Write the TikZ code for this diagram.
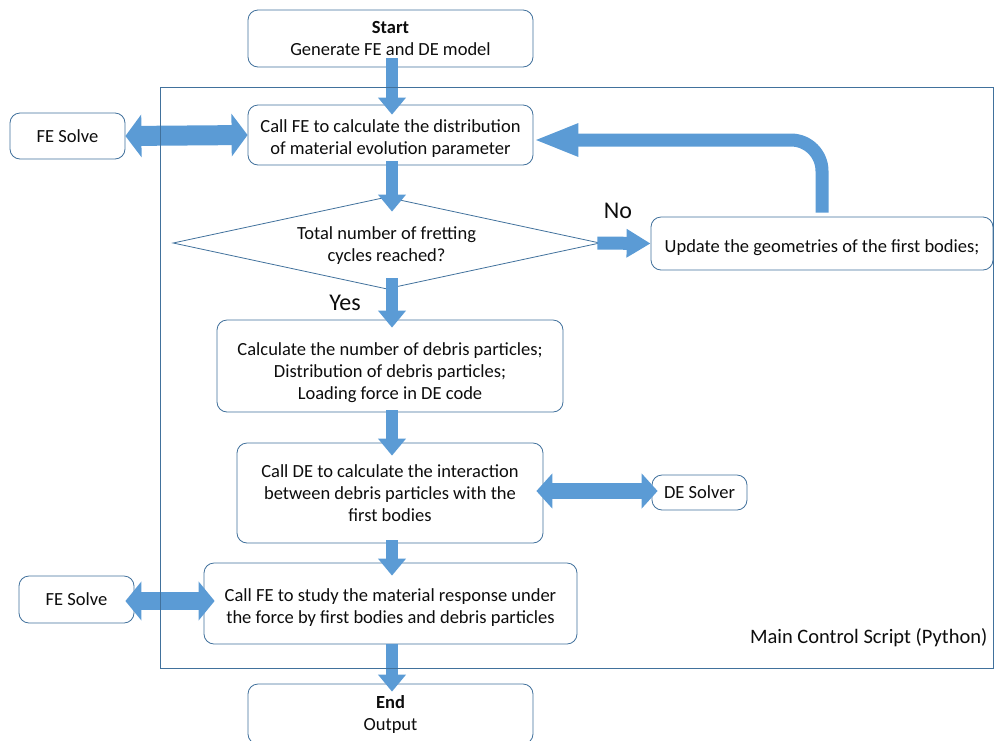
\documentclass[tikz,border=0pt]{standalone}
\usepackage{fontspec}
\setmainfont{Carlito}
\usetikzlibrary{shapes.geometric,arrows.meta}
\definecolor{boxline}{HTML}{41719C}
\definecolor{arrowfill}{HTML}{5B9BD5}
\definecolor{txt}{HTML}{0D0D0D}
\begin{document}
\begin{tikzpicture}[x=1pt,y=-1pt,
  font=\fontsize{18.5}{22}\selectfont, text=txt,
  box/.style={draw=boxline, line width=0.8pt, rounded corners=10pt, align=center, inner sep=0pt, fill=white},
  tdown/.style={text height=#1},
  vflow/.style={draw=arrowfill, line width=12pt, -{Triangle[width=27pt,length=17pt]}},
  hflow/.style={draw=arrowfill, line width=13pt, -{Triangle[width=27pt,length=24pt]}},
  loopflow/.style={draw=arrowfill, line width=13pt, rounded corners=31pt, -{Triangle[width=30pt,length=45pt]}},
  dflow/.style={draw=arrowfill, line width=#1, {Triangle[width=1.9*#1+4pt,length=16pt]}-{Triangle[width=1.9*#1+4pt,length=16pt]}},
  lbl/.style={font=\fontsize{24}{28}\selectfont}
]
\useasboundingbox (0,0) rectangle (997,740);

% boxes
\node[box, minimum width=285pt, minimum height=57pt] (start) at (390.5,38.5) {\textbf{Start}\\Generate FE and DE model};
\node[box, tdown=41.5pt, minimum width=285pt, minimum height=60pt] (callfe) at (390.5,135) {Call FE to calculate the distribution\\of material evolution parameter};
\node[box, minimum width=115pt, minimum height=46pt] (fes1) at (67.5,136) {FE Solve};
\node[diamond, tdown=39.5pt, draw=boxline, line width=0.8pt, minimum width=427pt, minimum height=92pt, aspect=4.6, inner sep=0pt, align=center] (dec) at (386.5,243) {Total number of fretting\\cycles reached?};
\node[box, tdown=21pt, minimum width=342pt, minimum height=53pt] (upd) at (822,243.5) {Update the geometries of the first bodies;};
\node[box, tdown=69.5pt, minimum width=346pt, minimum height=92pt] (debris) at (390,366) {Calculate the number of debris particles;\\Distribution of debris particles;\\Loading force in DE code};
\node[box, tdown=58pt, minimum width=306pt, minimum height=100pt] (callde) at (390,493) {Call DE to calculate the interaction\\between debris particles with the\\first bodies};
\node[box, minimum width=95pt, minimum height=35pt] (des) at (699.5,492.5) {DE Solver};
\node[box, tdown=42pt, minimum width=373pt, minimum height=81pt] (study) at (390.5,603.5) {Call FE to study the material response under\\the force by first bodies and debris particles};
\node[box, minimum width=115pt, minimum height=47pt] (fes2) at (76.5,599.5) {FE Solve};
\node[box, minimum width=285pt, minimum height=60pt] (endb) at (390.5,714) {\textbf{End}\\Output};

% labels
\node[lbl] (no) at (618,211) {No};
\node[lbl] (yes) at (345,303) {Yes};
\node[anchor=east, font=\fontsize{20.5}{24}\selectfont] (mcs) at (991,638) {Main Control Script (Python)};

% vertical flow arrows
\draw[vflow] ([xshift=1.5pt,yshift=9pt]start.south) -- ([xshift=1.5pt,yshift=-10pt]callfe.north);
\draw[vflow] ([xshift=1.5pt,yshift=4pt]callfe.south) -- ([xshift=5.5pt,yshift=-15pt]dec.north);
\draw[vflow] ([xshift=5.5pt,yshift=11pt]dec.south) -- ([xshift=2pt,yshift=-8pt]debris.north);
\draw[vflow] ([xshift=2pt,yshift=2pt]debris.south) -- ([xshift=2pt,yshift=-13pt]callde.north);
\draw[vflow] ([xshift=2pt,yshift=3pt]callde.south) -- ([xshift=1.5pt,yshift=-13pt]study.north);
\draw[vflow] ([xshift=1.5pt]study.south) -- ([xshift=1.5pt,yshift=-8pt]endb.north);

% decision to update
\draw[hflow] ([xshift=-3pt]dec.east) -- (upd.west);

% loop back
\draw[loopflow] ([yshift=4pt]upd.north) |- ([yshift=-5pt]callfe.east);

% solver exchanges
\draw[dflow=20pt] (fes1.east) -- (callfe.west);
\draw[dflow=16pt] ([xshift=-7pt,yshift=2pt]callde.east) -- ([xshift=6pt,yshift=1.5pt]des.west);
\draw[dflow=18pt] ([xshift=-9pt,yshift=-1.5pt]fes2.east) -- ([xshift=11pt,yshift=2.5pt]study.west);

% main control script frame
\draw[boxline, line width=0.8pt] (160,87) rectangle (993,668);
\end{tikzpicture}
\end{document}
